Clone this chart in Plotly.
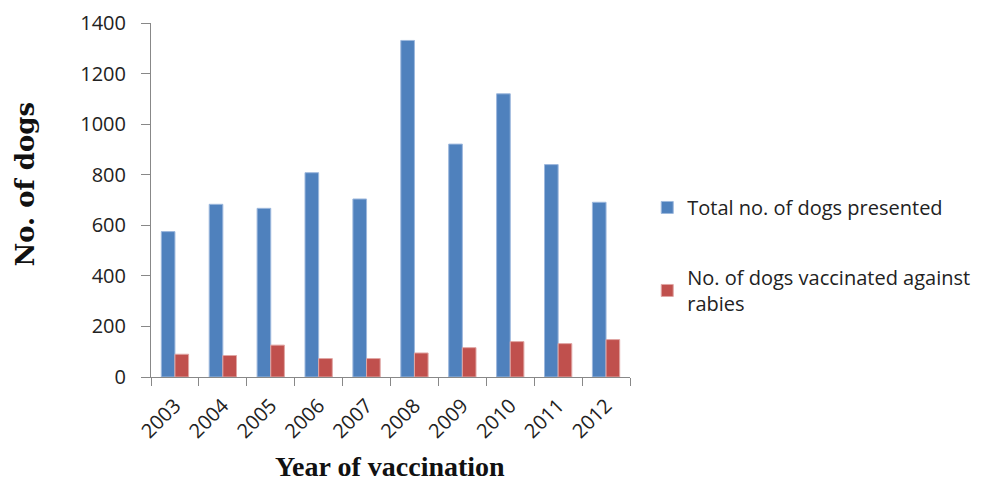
import plotly.graph_objects as go

years = ["2003", "2004", "2005", "2006", "2007", "2008", "2009", "2010", "2011", "2012"]
total_presented = [575, 683, 667, 808, 704, 1331, 921, 1120, 840, 691]
vaccinated = [90, 85, 126, 73, 73, 95, 116, 140, 132, 148]
y_ticks = [0, 200, 400, 600, 800, 1000, 1200, 1400]

fig = go.Figure()
fig.add_trace(go.Bar(x=years, y=total_presented, name="Total no. of dogs presented",
                     marker=dict(color="#4F81BD", line=dict(color="#9DB8DD", width=1)),
                     legendgroup="a"))
fig.add_trace(go.Bar(x=years, y=vaccinated, name="No. of dogs vaccinated against<br>rabies",
                     marker=dict(color="#C0504D", line=dict(color="#E0A6A4", width=1)),
                     legendgroup="b"))

fig.update_layout(
    width=979, height=476,
    margin=dict(l=143, r=355, t=15, b=107),
    paper_bgcolor="white", plot_bgcolor="white",
    barmode="group", bargap=0.43, bargroupgap=0,
    font=dict(family="Open Sans, sans-serif", size=20, color="#222"),
    showlegend=True,
    legend=dict(x=1.036, y=0.534, xanchor="left", yanchor="top",
                traceorder="grouped", tracegroupgap=41,
                font=dict(size=20, color="#222"), itemwidth=30),
    xaxis=dict(type="category", showline=True, linecolor="#888", linewidth=1,
               ticks="outside", tickson="boundaries", ticklen=8, tickcolor="#888",
               tickangle=-45, showgrid=False, automargin=False, ticklabelstandoff=8),
    yaxis=dict(range=[0, 1400], tickvals=y_ticks, showline=True, linecolor="#888", linewidth=1,
               ticks="outside", ticklen=9, tickcolor="#888", showgrid=False, zeroline=False,
               automargin=False, ticklabelstandoff=11),
    annotations=[
        dict(text="<b>Year of vaccination</b>", xref="paper", yref="paper",
             x=(391 - 151) / 481, y=(377 - 484) / 354, xanchor="center", yanchor="bottom",
             showarrow=False,
             font=dict(family="Liberation Serif, Times New Roman, serif", size=28, color="#111")),
        dict(text="<b>No. of dogs</b>", xref="paper", yref="paper", textangle=-90,
             x=(24 - 151) / 481, y=(377 - 184) / 354, xanchor="center", yanchor="middle",
             showarrow=False,
             font=dict(family="DejaVu Serif, serif", size=26, color="#111")),
    ],
)

fig.write_html("out.html")
